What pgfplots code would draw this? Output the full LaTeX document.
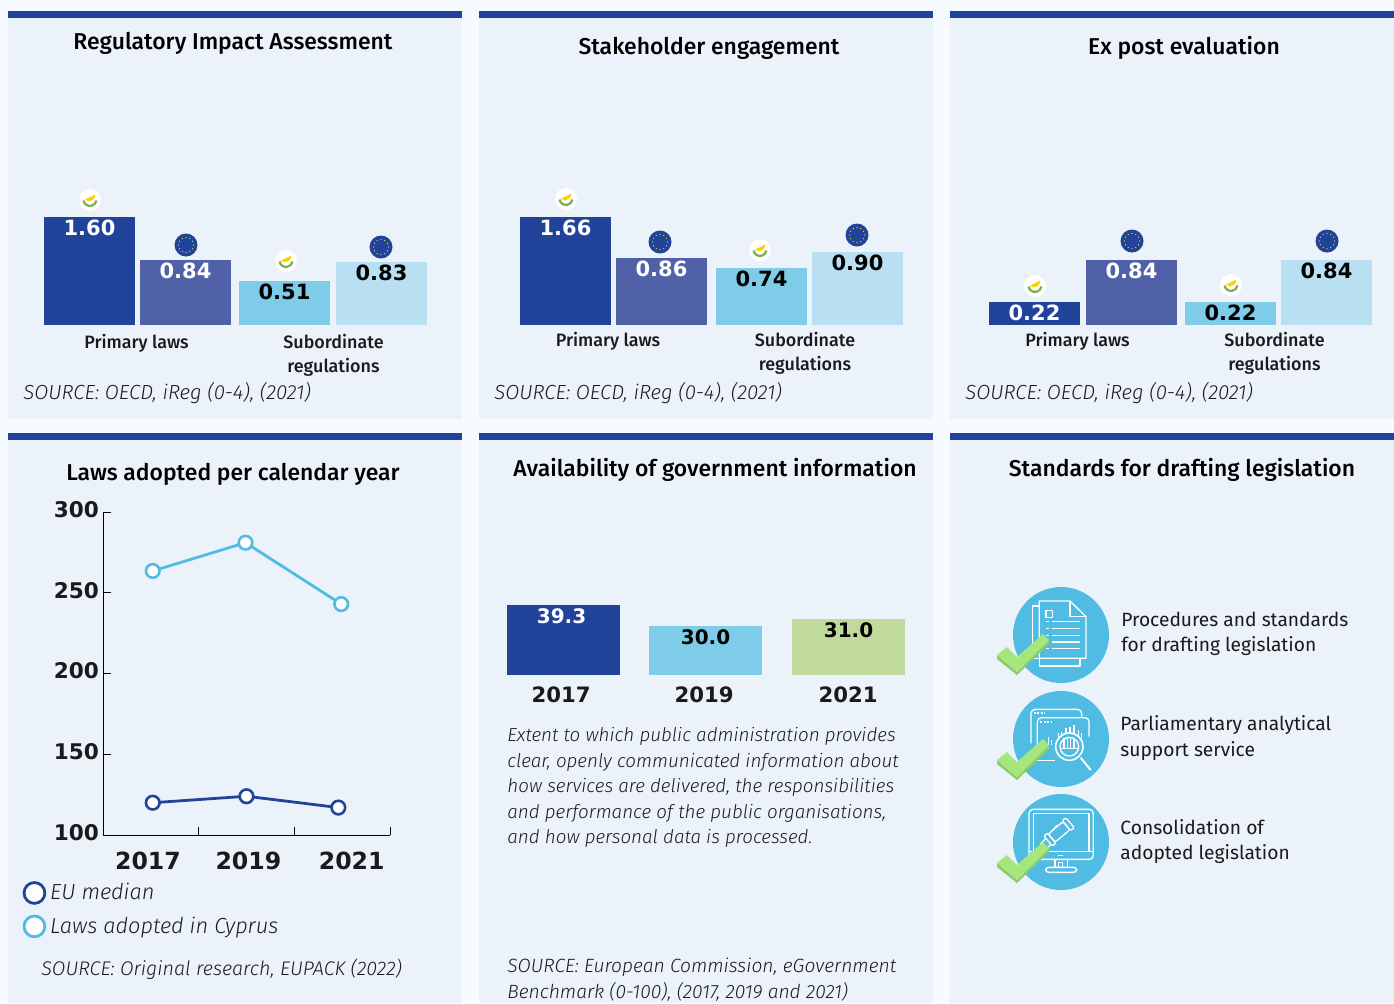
\documentclass[border=0pt]{standalone}
\usepackage{pgfplots}
\pgfplotsset{compat=1.18}
\usepackage{fontspec}
\setmainfont{Fira Sans}
\newfontfamily\medf{Fira Sans Medium}
\newfontfamily\litf{Fira Sans Light Italic}
\newfontfamily\dbf[BoldFont=*]{DejaVu Sans Bold}
\newcommand{\fs}[1]{\fontsize{#1}{#1}\selectfont}
\definecolor{pagebg}{HTML}{F5FBFF}
\definecolor{panelbg}{HTML}{EBF2FA}
\definecolor{navy}{HTML}{21439A}
\definecolor{midblue}{HTML}{5061A8}
\definecolor{sky}{HTML}{7FCCE9}
\definecolor{palesky}{HTML}{B9DFF2}
\definecolor{sage}{HTML}{BFDA9B}
\definecolor{cyan}{HTML}{51BCE3}
\definecolor{check}{HTML}{A6E67C}
\definecolor{checkd}{HTML}{8CCB68}
\definecolor{ink}{HTML}{1A1A1A}
\definecolor{wreath}{HTML}{7DB04A}
\newcommand{\panel}[4]{%
 \fill[panelbg] (#1,#2) rectangle (#3,#4);
 \fill[navy] (#1,#2) rectangle (#3,#2+6.5);}
\newcommand{\cyflag}[2]{%
 \fill[white] (#1,#2) circle (11);
 \draw[wreath,line width=1.1pt] (#1-6.5,#2+0.5) arc[start angle=170,end angle=10,radius=6.6];
 \fill[yellow!70!orange] (#1-5,#2-0.5) -- (#1+5.5,#2-5.5) -- (#1+4,#2-1) -- (#1-1,#2+1.5) -- cycle;}
\newcommand{\euflag}[2]{%
 \fill[navy] (#1,#2) circle (11.5);
 \foreach \a in {0,30,...,330}{\fill[yellow!85!orange] (#1,#2) ++(\a:7.5) circle (0.7);}}
\newcommand{\onebar}[5]{% x, h, label, fill, text colour
 \addplot[ybar,bar shift=0pt,bar width=45.5pt,fill=#4,draw=none,
   nodes near coords,
   every node near coord/.style={anchor=north,inner sep=0pt,yshift=-1.1pt,text=#5,font=\dbf\fs{10.5}}]
   coordinates {(#1,#2) [#3]};}
\pgfplotsset{barpanel/.style={
  scale only axis, width=#1, height=60pt,
  ymin=0,ymax=120,
  point meta=explicit symbolic,
  axis line style={draw=none},
  major tick length=0pt, ytick=\empty,
  clip=false,
  xtick style={draw=none},
  x tick label style={align=center,font=\medf\fs{8.95},text=ink,yshift=-1.2pt,
    text depth=0pt},
}}
\begin{document}
\begin{tikzpicture}[x=0.5pt,y=-0.5pt]
\path[use as bounding box] (0,0) rectangle (1394,1003);
\clip (0,0) rectangle (1394,1003);
\fill[pagebg] (0,0) rectangle (1394,1003);
\panel{8}{11}{462}{419}
\panel{479}{11}{933}{419}
\panel{950}{11}{1394}{419}
\panel{8}{433}{462}{1003}
\panel{479}{433}{933}{1003}
\panel{950}{433}{1394}{1003}
% titles
\begin{scope}[every node/.style={font=\medf\fs{11.45},text=black,inner sep=0pt}]
\node at (233,43) {Regulatory Impact Assessment};
\node at (709,48) {Stakeholder engagement};
\node at (1184,48) {Ex post evaluation};
\node at (233,474) {Laws adopted per calendar year};
\node at (715,470) {Availability of government information};
\node at (1182,470) {Standards for drafting legislation};
\end{scope}
% panel 1
\begin{axis}[barpanel=227pt, at={(8*0.5pt,-325*0.5pt)}, xmin=8, xmax=462, xtick={136.5,333.5},
  xticklabels={Primary laws,{Subordinate\\[3pt]regulations}}]
\onebar{89.5}{108}{1.60}{navy}{white}
\onebar{185.5}{65}{0.84}{midblue}{white}
\onebar{284.5}{44}{0.51}{sky}{black}
\onebar{381.5}{63}{0.83}{palesky}{black}
\end{axis}
% panel 2
\begin{axis}[barpanel=227pt, at={(479*0.5pt,-325*0.5pt)}, xmin=479, xmax=933, xtick={608,805},
  xticklabels={Primary laws,{Subordinate\\[3pt]regulations}},
  x tick label style={yshift=1pt}]
\onebar{565.5}{108}{1.66}{navy}{white}
\onebar{661.5}{67}{0.86}{midblue}{white}
\onebar{761.5}{57}{0.74}{sky}{black}
\onebar{857.5}{73}{0.90}{palesky}{black}
\end{axis}
% panel 3
\begin{axis}[barpanel=222pt, at={(950*0.5pt,-325*0.5pt)}, xmin=950, xmax=1394, xtick={1077.5,1274.5},
  xticklabels={Primary laws,{Subordinate\\[3pt]regulations}},
  x tick label style={yshift=1pt}]
\onebar{1034.5}{23}{0.22}{navy}{white}
\onebar{1131.5}{65}{0.84}{midblue}{white}
\onebar{1230.5}{23}{0.22}{sky}{black}
\onebar{1326.5}{65}{0.84}{palesky}{black}
\end{axis}
\cyflag{90}{200}\euflag{186}{245}\cyflag{286}{261}\euflag{381}{247}
\cyflag{566}{199}\euflag{660}{242}\cyflag{760}{250}\euflag{857}{235}
\cyflag{1035}{286}\euflag{1132}{241}\cyflag{1231}{285}\euflag{1327}{241}
% sources top
\begin{scope}[every node/.style={font=\litf\fs{10.2},text=ink,inner sep=0pt,anchor=west}]
\node at (23,393) {SOURCE: OECD, iReg (0-4), (2021)};
\node at (494,393) {SOURCE: OECD, iReg (0-4), (2021)};
\node at (965,393) {SOURCE: OECD, iReg (0-4), (2021)};
\node[font=\litf\fs{9.85}] at (41,969) {SOURCE: Original research, EUPACK (2022)};
\node[font=\litf\fs{9.6}] at (507,967) {SOURCE: European Commission, eGovernment};
\node[font=\litf\fs{9.6}] at (507,992) {Benchmark (0-100), (2017, 2019 and 2021)};
\end{scope}
\begin{scope}[every node/.style={font=\litf\fs{9.4},text=ink,inner sep=0pt,anchor=west}]
\node at (507,736) {Extent to which public administration provides};
\node at (507,762) {clear, openly communicated information about};
\node at (507,787) {how services are delivered, the responsibilities};
\node at (507,813) {and performance of the public organisations,};
\node at (507,838) {and how personal data is processed.};
\end{scope}
% line chart
\begin{axis}[scale only axis,width=143.5pt,height=161.5pt,at={(103*0.5pt,-835*0.5pt)},
  xmin=0,xmax=3,ymin=100,ymax=300,
  axis lines=left,axis line style={-,line width=0.5pt,black},
  tick align=inside,major tick length=4pt,
  tick style={black,line width=0.5pt},
  ytick={100,150,200,250,300},
  xtick={0,1,2,3},xticklabels={},
  extra x ticks={0.47,1.52,2.6},
  extra x tick labels={2017,2019,2021},
  extra x tick style={major tick length=0pt,tick label style={font=\dbf\fs{11.8},text=ink,yshift=-5pt}},
  tick label style={/pgf/number format/assume math mode=true},
  y tick label style={font=\dbf\fs{10.8},text=ink,xshift=1.5pt,yshift=1.2pt},
  clip=false,
  legend style={at={(-0.28,-0.137)},anchor=north west,draw=none,fill=none,
    font=\litf\fs{10.9},text=ink,row sep=3pt,inner sep=0pt,outer sep=0pt,
    /tikz/every even column/.style={column sep=5.5pt}},
  legend cell align=left,
]
\addplot[navy,line width=1.4pt,mark=*,mark size=3.4pt,mark options={fill=white,draw=navy,line width=1.3pt},
  legend image code/.code={\draw[navy,line width=1.4pt,fill=white] (0.3cm,0) circle (5.2pt);}]
  coordinates {(0.52,120) (1.5,124) (2.46,117)};
\addlegendentry{EU median}
\addplot[cyan,line width=1.4pt,mark=*,mark size=3.4pt,mark options={fill=white,draw=cyan,line width=1.3pt},
  legend image code/.code={\draw[cyan,line width=1.4pt,fill=white] (0.3cm,0) circle (5.2pt);}]
  coordinates {(0.52,263.5) (1.49,281) (2.49,243)};
\addlegendentry{Laws adopted in Cyprus}
\end{axis}
% availability bars
\begin{axis}[barpanel=227pt, at={(479*0.5pt,-675*0.5pt)}, xmin=479, xmax=933, xtick={561,704,848},
  xticklabels={2017,2019,2021},
  x tick label style={font=\dbf\fs{10.6},text=ink,yshift=-1.2pt}]
\addplot[ybar,bar shift=0pt,bar width=56.5pt,fill=navy,draw=none,nodes near coords,
  every node near coord/.style={anchor=north,inner sep=0pt,yshift=-1.5pt,xshift=-1pt,text=white,font=\dbf\fs{10}}]
  coordinates {(563.5,70) [39.3]};
\addplot[ybar,bar shift=0pt,bar width=56.5pt,fill=sky,draw=none,nodes near coords,
  every node near coord/.style={anchor=north,inner sep=0pt,yshift=-1.5pt,text=black,font=\dbf\fs{10}}]
  coordinates {(705.5,49) [30.0]};
\addplot[ybar,bar shift=0pt,bar width=56.5pt,fill=sage,draw=none,nodes near coords,
  every node near coord/.style={anchor=north,inner sep=0pt,yshift=-1.5pt,text=black,font=\dbf\fs{10}}]
  coordinates {(848.5,56) [31.0]};
\end{axis}
% standards
\foreach \cy in {635,739,842}{\fill[cyan] (1061,\cy) circle (48);}
\begin{scope}[shift={(980,570)},x=0.16667pt,y=-0.16667pt,draw=white,line width=0.65pt,line join=round]
% document
\draw (178,108) -- (158,108) -- (158,265) -- (178,265) -- (178,288) -- (300,288) -- (300,265);
\draw (178,265) -- (178,93) -- (270,93) -- (318,140) -- (318,265) -- cycle;
\draw (270,93) -- (270,140) -- (318,140);
\draw (198,122) rectangle (218,142);
\foreach \yy in {155,176,196,216,236}{\draw (215,\yy) -- (300,\yy); \draw (198,\yy) -- (207,\yy);}
% browser
\draw[rounded corners=2pt] (153,520) -- (153,418) -- (305,418) -- (305,440);
\draw[rounded corners=2pt] (172,572) -- (172,443) -- (327,443) -- (327,500);
\draw (172,572) -- (225,572);
\draw[line width=0.9pt,dash pattern=on 1pt off 0.7pt] (162,430) -- (195,430);
\draw[line width=0.9pt,dash pattern=on 1pt off 0.7pt] (181,456) -- (215,456);
\foreach \xx/\tt in {205/500,215/510,235/490,245/485,258/475,270/470,282/465,295/480,305/490}{\draw (\xx,\tt) -- (\xx,525);}
\fill[cyan] (268,530) circle (42);
\draw[line width=0.8pt] (268,530) circle (41);
\draw (268,530) circle (28);
\draw (240,535) -- (296,535);
\foreach \xx in {252,262,272,282}{\draw (\xx,505) -- (\xx,535);}
\draw[line width=1pt] (302,563) -- (332,600);
% monitor
\draw[rounded corners=2pt] (147,868) rectangle (340,718);
\draw (160,845) -- (160,730) -- (327,730) -- (327,845);
\draw (147,845) -- (340,845);
\draw (235,857) -- (250,857);
\draw (225,868) -- (225,890); \draw (262,868) -- (262,890);
\draw[rounded corners=1.5pt] (197,892) rectangle (290,907);
\draw (235,878) rectangle (248,892);
\draw (258,783) -- (196,838) -- (182,822) -- (232,765);
\begin{scope}[shift={(238,785)},rotate=40]
\fill[cyan] (-42,-17) rectangle (42,17);
\draw[rounded corners=1pt] (-30,-16) rectangle (28,16);
\draw[rounded corners=1pt] (-44,-20) rectangle (-30,20);
\draw[rounded corners=1pt] (28,-20) rectangle (42,20);
\end{scope}
\end{scope}
\foreach \dy in {0,105,208}{
 \fill[checkd] (997,655+\dy) -- (1017,672+\dy) -- (1049,640+\dy) -- (1049,644+\dy) -- (1017,675+\dy) -- (997,659+\dy) -- cycle;
 \fill[check] (997,655+\dy) -- (1007,647+\dy) -- (1017,657+\dy) -- (1043,634+\dy) -- (1049,640+\dy) -- (1017,672+\dy) -- cycle;
}
\begin{scope}[every node/.style={font=\fs{9.6},text=ink,inner sep=0pt,anchor=base west}]
\node at (1121,626) {Procedures and standards};
\node at (1121,651) {for drafting legislation};
\node at (1120,730) {Parliamentary analytical};
\node at (1120,756) {support service};
\node at (1120,834) {Consolidation of};
\node at (1120,859) {adopted legislation};
\end{scope}
\end{tikzpicture}
\end{document}
